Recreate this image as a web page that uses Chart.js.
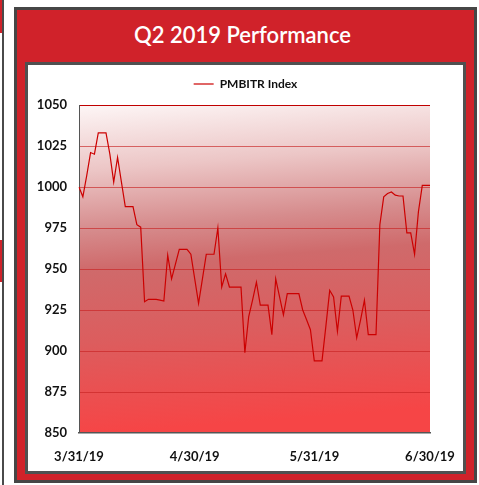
<!DOCTYPE html>
<html>
<head>
<meta charset="utf-8">
<script src="https://cdn.jsdelivr.net/npm/chart.js@4.4.1/dist/chart.umd.min.js"></script>
<style>
  html, body { margin: 0; padding: 0; background: #fff; }
  body { width: 479px; height: 485px; position: relative; overflow: hidden; font-family: Lato, "DejaVu Sans", sans-serif; }
  .abs { position: absolute; }
  #strip { left: 2px; top: 0; width: 2px; height: 485px; background: #4a4a4a; }
  .redbit { left: 0; width: 2px; background: #d0222a; }
  #frame { left: 14px; top: 7px; width: 463px; height: 476px; box-sizing: border-box; border: 3px solid #464646; background: #d0222a; }
  #title { left: 0; top: 24px; width: 485px; text-align: center; color: #fff; font-size: 22px; line-height: 22px; font-weight: 600; }
  #panel { left: 25px; top: 62px; width: 441px; height: 412px; box-sizing: border-box; border: 3px solid #505050; background: #fff; }
  #wrap { left: 28px; top: 65px; width: 435px; height: 405px; }
</style>
</head>
<body>
<div id="strip" class="abs"></div>
<div class="abs redbit" style="top:0;height:33px"></div>
<div class="abs redbit" style="top:240px;height:42px"></div>
<div id="frame" class="abs"></div>
<div id="title" class="abs">Q2 2019 Performance</div>
<div id="panel" class="abs"></div>
<div id="wrap" class="abs"><canvas id="chart" width="435" height="405"></canvas></div>
<script>
// daily values 3/31/19 .. 6/30/19 (weekends carry the last close)
const indexValues = [
  1000, 994, 1007, 1021, 1020, 1033, 1033, 1033, 1020, 1003,
  1018, 1003, 988, 988, 988, 977, 975.5, 930, 931.5, 931.5,
  931.5, 931, 930.5, 958.5, 944, 953, 962, 962, 962, 959,
  944, 929, 944, 959, 959, 959, 975, 939, 947, 939,
  939, 939, 939, 899, 921, 931, 942, 928, 928, 928,
  910, 944, 933, 922, 935, 935, 935, 935, 925, 919,
  913, 894, 894, 894, 915, 937, 933, 912, 933.5, 933.5,
  933.5, 925, 908, 919, 931, 910, 910, 910, 977, 994,
  996, 997, 995, 994.5, 994.5, 972, 972, 959, 985, 1001,
  1001, 1001
];
const tickLabels = ["3/31/19", "4/30/19", "5/31/19", "6/30/19"];
const yTicks = [850, 875, 900, 925, 950, 975, 1000, 1025, 1050];

const dayLabels = [];
for (let i = 0; i < indexValues.length; i++) {
  const d = new Date(2019, 2, 31 + i);
  dayLabels.push((d.getMonth() + 1) + "/" + d.getDate() + "/19");
}

// shaded plot background
const plotBg = {
  id: "plotBg",
  beforeDraw(chart) {
    const { ctx, chartArea: a } = chart;
    const g = ctx.createLinearGradient(a.left, a.top, a.left + 25, a.bottom);
    g.addColorStop(0, "#fdf6f6");
    g.addColorStop(0.2, "#ecc6c6");
    g.addColorStop(0.38, "#d68c8d");
    g.addColorStop(0.5, "#cf6a6b");
    g.addColorStop(0.72, "#dc5d5e");
    g.addColorStop(1, "#f64546");
    ctx.save();
    ctx.fillStyle = g;
    ctx.fillRect(a.left, a.top, a.right - a.left, a.bottom - a.top);
    ctx.restore();
  }
};

// fixed legend band height so the plot top lands where it should
const legendBand = {
  id: "legendBand",
  beforeInit(chart) {
    const fit = chart.legend.fit;
    chart.legend.fit = function () {
      fit.call(this);
      this.height = 40;
    };
  }
};

const tickFont = { family: "Lato", size: 13, weight: "bold" };

new Chart(document.getElementById("chart"), {
  type: "line",
  data: {
    labels: dayLabels,
    datasets: [
      {
        label: "PMBITR Index",
        data: indexValues,
        borderColor: "#cc0000",
        backgroundColor: "#cc0000",
        borderWidth: 1.2,
        pointRadius: 0,
        tension: 0,
      },
    ],
  },
  options: {
    responsive: false,
    animation: false,
    layout: { padding: 0 },
    scales: {
      x: {
        afterFit: (s) => { s.height = 37; },
        grid: { display: false },
        border: { color: "#555", width: 1.5 },
        ticks: {
          autoSkip: false,
          maxRotation: 0,
          padding: 8,
          color: "#111",
          font: tickFont,
          callback: function (v) {
            const l = this.getLabelForValue(v);
            return tickLabels.includes(l) ? l : null;
          },
        },
      },
      y: {
        min: yTicks[0],
        max: yTicks[yTicks.length - 1],
        afterFit: (s) => { s.width = 51; },
        afterBuildTicks: (s) => { s.ticks = yTicks.map((v) => ({ value: v })); },
        border: { color: "#555", width: 1 },
        grid: {
          drawTicks: false,
          color: (c) => (c.tick && c.tick.value === 1050 ? "#c00000" : "rgba(200,35,35,0.65)"),
          lineWidth: (c) => (c.tick && c.tick.value === 850 ? 0 : 1),
        },
        ticks: { padding: 12, color: "#111", font: tickFont, callback: (v) => String(v) },
      },
      // empty right-hand band, keeps the legend centred on the whole panel
      yRight: {
        position: "right",
        min: yTicks[0],
        max: yTicks[yTicks.length - 1],
        afterFit: (s) => { s.width = 33; },
        grid: { display: false, drawOnChartArea: false },
        border: { display: false },
        ticks: { display: false },
      },
    },
    plugins: {
      legend: {
        position: "top",
        labels: {
          usePointStyle: true,
          pointStyle: "line",
          pointStyleWidth: 20,
          padding: 13,
          color: "#111",
          font: { family: "Lato", size: 12, weight: "bold" },
        },
      },
      tooltip: { enabled: false },
    },
  },
  plugins: [plotBg, legendBand],
});
</script>
</body>
</html>
